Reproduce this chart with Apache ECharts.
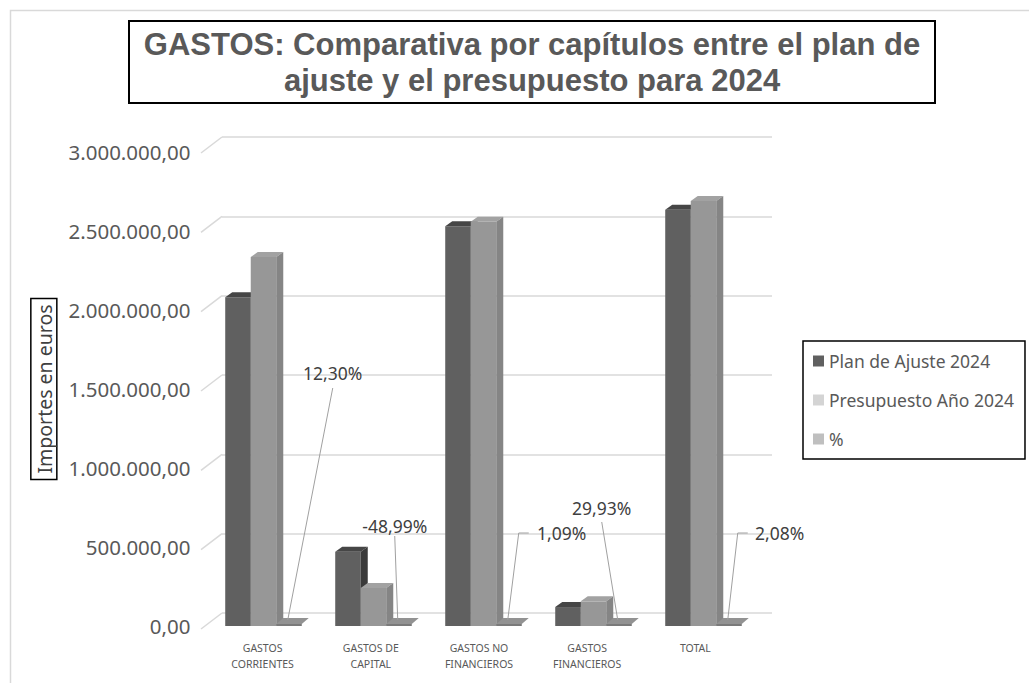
<!DOCTYPE html>
<html>
<head>
<meta charset="utf-8">
<script src="https://cdn.jsdelivr.net/npm/echarts@6/dist/echarts.min.js"></script>
<style>html,body{margin:0;padding:0;background:#fff;}#c{width:1029px;height:683px;}</style>
</head>
<body>
<div id="c"></div>
<script>
// ---- data ----
const categories = ['GASTOS\nCORRIENTES', 'GASTOS DE\nCAPITAL', 'GASTOS NO\nFINANCIEROS', 'GASTOS\nFINANCIEROS', 'TOTAL'];
const planAjuste = [2080000, 470000, 2530000, 120000, 2635000];
const presupuesto = [2335000, 240000, 2558000, 156000, 2690000];
const porcentaje = [12.30, -48.99, 1.09, 29.93, 2.08];
const yTicks = [0, 500000, 1000000, 1500000, 2000000, 2500000, 3000000];
const seriesNames = ['Plan de Ajuste 2024', 'Presupuesto Año 2024', '%'];

// ---- layout / style constants ----
const FONT = '"Noto Sans", "Open Sans", sans-serif';
const BAR_RATIO = 0.232;
const DX = 7, DY = 5;
const pctLayout = [
  {label: [45, -247], line: [[45, -232]]},
  {label: [-3, -94], line: [[-3, -84]]},
  {label: [54, -87], line: [[11, -87], [21, -87]]},
  {label: [-16, -112], line: [[-16, -98]]},
  {label: [52, -87], line: [[10, -87], [20, -87]]}
];
const colorsPlan = {front: '#606060', top: '#464646', side: '#3a3a3a'};
const colorsPres = {front: '#979797', top: '#a2a2a2', side: '#858585'};

function fmtEuro(v) {
  return Math.round(v).toString().replace(/\B(?=(\d{3})+(?!\d))/g, '.') + ',00';
}
function fmtPct(v) {
  return v.toFixed(2).replace('.', ',') + '%';
}

function barRender(s, c) {
  return function (params, api) {
    const i = api.value(0), v = api.value(1);
    const b = api.coord([i, 0]);
    const t = api.coord([i, v]);
    const band = api.size([1, 0])[0];
    const bw = band * BAR_RATIO;
    const x0 = b[0] - 1.5 * bw + s * bw;
    const yB = b[1], yT = t[1];
    return {
      type: 'group',
      children: [
        {type: 'rect', shape: {x: x0, y: yT, width: bw, height: yB - yT}, style: {fill: c.front}},
        {type: 'polygon', shape: {points: [[x0, yT], [x0 + DX, yT - DY], [x0 + bw + DX, yT - DY], [x0 + bw, yT]]}, style: {fill: c.top}},
        {type: 'polygon', shape: {points: [[x0 + bw, yT], [x0 + bw + DX, yT - DY], [x0 + bw + DX, yB - DY], [x0 + bw, yB]]}, style: {fill: c.side}}
      ]
    };
  };
}

function pctRender(params, api) {
  const i = api.value(0), v = api.value(1);
  const b = api.coord([i, 0]);
  const band = api.size([1, 0])[0];
  const bw = band * BAR_RATIO;
  const x0 = b[0] + 0.5 * bw;
  const yB = b[1];
  const ax = x0 + bw * 0.45, ay = yB - 6;
  const L = pctLayout[params.dataIndex];
  const pts = [[ax, ay]].concat(L.line.map(p => [ax + p[0], ay + p[1]]));
  return {
    type: 'group',
    children: [
      {type: 'rect', shape: {x: x0, y: yB - 2, width: bw, height: 2}, style: {fill: '#7a7a7a'}},
      {type: 'polygon', shape: {points: [[x0, yB - 2], [x0 + DX, yB - 2 - 6], [x0 + bw + DX, yB - 2 - 6], [x0 + bw, yB - 2]]}, style: {fill: '#929292'}},
      {type: 'polyline', shape: {points: pts}, style: {stroke: '#a0a0a0', lineWidth: 1, fill: null}},
      {type: 'text', style: {text: fmtPct(v), x: ax + L.label[0], y: ay + L.label[1], align: 'center', verticalAlign: 'middle', fontSize: 17.5, fontFamily: FONT, fill: '#404040'}}
    ]
  };
}

function wallRender(params, api) {
  const p = api.coord([0, api.value(0)]);
  return {type: 'line', shape: {x1: p[0] - 21, y1: p[1] + 16, x2: p[0], y2: p[1]}, style: {stroke: '#d9d9d9', lineWidth: 1.5}};
}

const chart = echarts.init(document.getElementById('c'), null, {renderer: 'svg'});
chart.setOption({
  animation: false,
  backgroundColor: '#fff',
  graphic: [
    {type: 'rect', shape: {x: 10.5, y: 10.5, width: 1040, height: 700}, style: {fill: 'none', stroke: '#d9d9d9', lineWidth: 1.5}, z: -10}
  ],
  title: {
    text: 'GASTOS: Comparativa por capítulos entre el plan de\najuste y el presupuesto para 2024',
    left: 517, top: 21, textAlign: 'center',
    padding: [5, 15, 5, 15],
    borderColor: '#000', borderWidth: 2,
    textStyle: {fontSize: 31, fontWeight: 'bold', fontFamily: '"Liberation Sans", Arial, sans-serif', color: '#595959', lineHeight: 36}
  },
  legend: {
    orient: 'vertical', left: 803, top: 341,
    padding: [11, 11, 11, 10], itemGap: 21,
    itemWidth: 11, itemHeight: 11, icon: 'rect',
    borderColor: '#000', borderWidth: 1.5,
    textStyle: {fontSize: 17.5, fontFamily: FONT, color: '#595959'},
    data: [
      {name: seriesNames[0], itemStyle: {color: '#606060'}},
      {name: seriesNames[1], itemStyle: {color: '#d4d4d4'}},
      {name: seriesNames[2], itemStyle: {color: '#bfbfbf'}}
    ]
  },
  grid: [
    {left: 208.5, right: 270.5, top: 152, bottom: 57},
    {left: 222, right: 257, top: 137, bottom: 70},
    {left: 208.5, right: 279.5, top: 152, bottom: 57}
  ],
  xAxis: [
    {type: 'category', gridIndex: 0, data: categories, axisLine: {show: false}, axisTick: {show: false}, axisLabel: {show: false}},
    {type: 'value', gridIndex: 1, min: 0, max: 1, show: false},
    {type: 'category', gridIndex: 2, data: categories, axisLine: {show: false}, axisTick: {show: false},
      axisLabel: {fontSize: 10.5, fontFamily: FONT, color: '#595959', lineHeight: 16, margin: 14, interval: 0}}
  ],
  yAxis: [
    {type: 'value', gridIndex: 0, min: 0, max: 3000000, interval: 500000,
      name: 'Importes en euros', nameLocation: 'middle', nameRotate: 90, nameGap: 145,
      nameTextStyle: {fontSize: 19.5, fontFamily: FONT, color: '#404040', borderColor: '#000', borderWidth: 1.5, padding: [4, 6, 2, 6]},
      axisLine: {show: false}, axisTick: {show: false}, splitLine: {show: false},
      axisLabel: {fontSize: 20.5, fontFamily: FONT, color: '#595959', margin: 18, formatter: fmtEuro}},
    {type: 'value', gridIndex: 1, min: 0, max: 3000000, interval: 500000,
      axisLine: {show: false}, axisTick: {show: false}, axisLabel: {show: false},
      splitLine: {show: true, lineStyle: {color: '#d9d9d9', width: 1.5}}},
    {type: 'value', gridIndex: 2, min: 0, max: 3000000, show: false}
  ],
  series: [
    {type: 'custom', name: 'wall', xAxisIndex: 1, yAxisIndex: 1, data: yTicks.map(v => [v]), encode: {y: 0}, renderItem: wallRender, silent: true, z: 1},
    {type: 'custom', name: seriesNames[0], xAxisIndex: 0, yAxisIndex: 0, itemStyle: {color: '#606060'},
      data: planAjuste.map((v, i) => [i, v]), encode: {x: 0, y: 1}, renderItem: barRender(0, colorsPlan), z: 3},
    {type: 'custom', name: seriesNames[1], xAxisIndex: 0, yAxisIndex: 0, itemStyle: {color: '#d4d4d4'},
      data: presupuesto.map((v, i) => [i, v]), encode: {x: 0, y: 1}, renderItem: barRender(1, colorsPres), z: 4},
    {type: 'custom', name: seriesNames[2], xAxisIndex: 0, yAxisIndex: 0, itemStyle: {color: '#bfbfbf'},
      data: porcentaje.map((v, i) => [i, v]), encode: {x: 0, y: 1}, renderItem: pctRender, z: 5}
  ]
});
</script>
</body>
</html>
